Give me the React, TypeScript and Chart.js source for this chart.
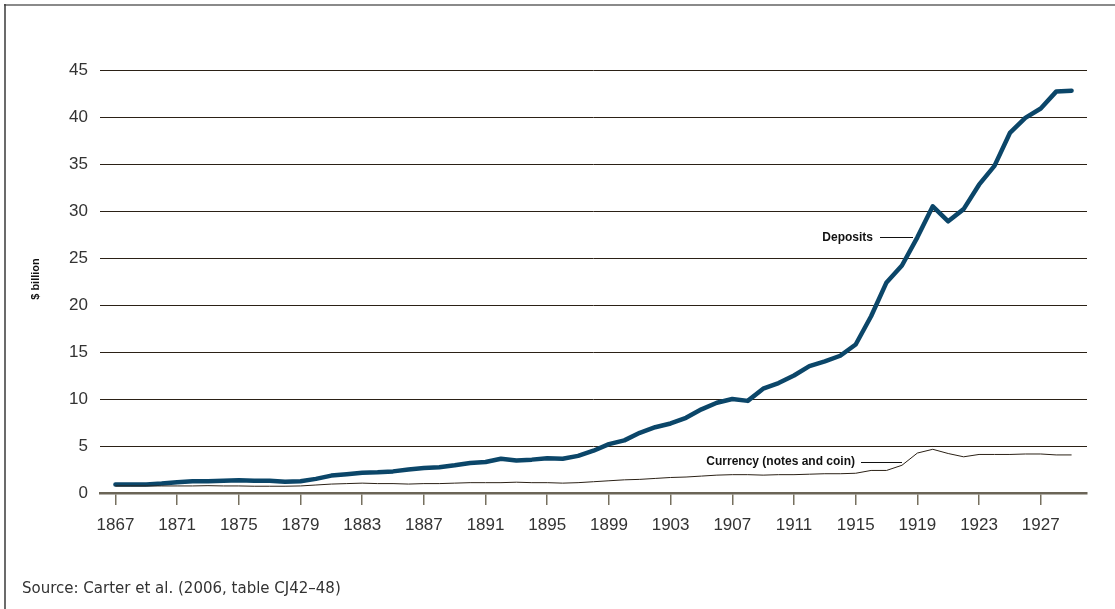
import React, { useEffect, useRef } from "react";
import { Chart, registerables } from "chart.js";

Chart.register(...registerables);

const years: number[] = [];
for (let y = 1867; y <= 1929; y++) years.push(y);

const deposits: number[] = [
  0.9, 0.9, 0.9, 1.0, 1.15, 1.25, 1.25, 1.3, 1.35, 1.3, 1.3, 1.2, 1.25,
  1.5, 1.85, 2.0, 2.15, 2.2, 2.3, 2.5, 2.65, 2.75, 2.95,
  3.2, 3.3, 3.65, 3.45, 3.55, 3.7, 3.65, 3.95, 4.5, 5.2,
  5.6, 6.4, 7.0, 7.4, 8.0, 8.9, 9.6, 10.0, 9.8, 11.1,
  11.7, 12.5, 13.5, 14.0, 14.6, 15.8, 18.8, 22.4, 24.2, 27.2,
  30.5, 28.9, 30.2, 32.8, 34.8, 38.3, 39.9, 40.9, 42.7, 42.8,
];

const currency: number[] = [
  0.75, 0.75, 0.75, 0.75, 0.75, 0.75, 0.78, 0.75, 0.75, 0.72, 0.72, 0.72, 0.75,
  0.85, 0.95, 1.0, 1.05, 1.0, 1.0, 0.95, 1.0, 1.0, 1.05,
  1.1, 1.1, 1.1, 1.15, 1.1, 1.1, 1.05, 1.1, 1.2, 1.3,
  1.4, 1.45, 1.55, 1.65, 1.7, 1.8, 1.9, 1.95, 1.95, 1.9,
  1.95, 1.95, 2.0, 2.05, 2.05, 2.1, 2.4, 2.4, 2.95, 4.25,
  4.65, 4.2, 3.85, 4.1, 4.1, 4.1, 4.15, 4.15, 4.05, 4.05,
];

const xTickYears: number[] = [1867, 1871, 1875, 1879, 1883, 1887, 1891, 1895, 1899, 1903, 1907, 1911, 1915, 1919, 1923, 1927];
const yTicks: number[] = [0, 5, 10, 15, 20, 25, 30, 35, 40, 45];

const seriesLabels = ["Deposits", "Currency (notes and coin)"];
const yAxisTitle = "$ billion";
const sourceText = "Source: Carter et al. (2006, table CJ42\u201348)";

const FONT = "'Liberation Sans', Arial, Helvetica, sans-serif";
const SRC_FONT = "'DejaVu Sans', Verdana, sans-serif";

const decorPlugin = {
  id: "decor",
  afterDraw(chart: any) {
    const ctx = chart.ctx as CanvasRenderingContext2D;
    const ys = chart.scales.y;
    ctx.save();
    // frame
    ctx.strokeStyle = "#8a8a8a";
    ctx.lineWidth = 2;
    ctx.beginPath();
    ctx.moveTo(4, 5);
    ctx.lineTo(1115, 5);
    ctx.stroke();
    ctx.strokeStyle = "#3a3a3a";
    ctx.lineWidth = 1.5;
    ctx.beginPath();
    ctx.moveTo(5, 4);
    ctx.lineTo(5, 609);
    ctx.stroke();

    // y title
    ctx.fillStyle = "#111";
    ctx.font = `bold 11px ${FONT}`;
    ctx.textAlign = "center";
    ctx.textBaseline = "middle";
    ctx.save();
    ctx.translate(35.5, 279);
    ctx.rotate(-Math.PI / 2);
    ctx.fillText(yAxisTitle, 0, 0);
    ctx.restore();

    // annotations
    ctx.font = `bold 12px ${FONT}`;
    ctx.textAlign = "right";
    const dy = ys.getPixelForValue(27.2);
    ctx.fillText(seriesLabels[0], 873, dy);
    ctx.strokeStyle = "#111";
    ctx.lineWidth = 1;
    ctx.beginPath();
    ctx.moveTo(880, Math.round(dy) + 0.5);
    ctx.lineTo(913, Math.round(dy) + 0.5);
    ctx.stroke();

    const cy = ys.getPixelForValue(3.35);
    ctx.fillText(seriesLabels[1], 855, cy);
    ctx.beginPath();
    ctx.moveTo(861, Math.round(cy) + 0.5);
    ctx.lineTo(902, Math.round(cy) + 0.5);
    ctx.stroke();

    // source
    ctx.fillStyle = "#333";
    ctx.font = `15px ${SRC_FONT}`;
    ctx.textAlign = "left";
    ctx.fillText(sourceText, 22, 589);
    ctx.restore();
  },
};

export default function App() {
  const ref = useRef<HTMLCanvasElement | null>(null);

  useEffect(() => {
    if (!ref.current) return;
    const chart = new Chart(ref.current, {
      type: "line",
      data: {
        datasets: [
          {
            label: seriesLabels[1],
            data: years.map((y, i) => ({ x: y, y: currency[i] })),
            borderColor: "#2b2116",
            borderWidth: 1,
            pointRadius: 0,
            tension: 0,
          },
          {
            label: seriesLabels[0],
            data: years.map((y, i) => ({ x: y, y: deposits[i] })),
            borderColor: "#0b4669",
            borderWidth: 4.5,
            pointRadius: 0,
            tension: 0,
            borderCapStyle: "round",
            borderJoinStyle: "round",
          },
        ],
      },
      options: {
        animation: false,
        responsive: false,
        maintainAspectRatio: false,
        devicePixelRatio: 1,
        layout: { padding: { top: 70, right: 28, left: 0, bottom: 0 } },
        plugins: { legend: { display: false }, tooltip: { enabled: false }, title: { display: false } },
        scales: {
          x: {
            type: "linear",
            min: 1866,
            max: 1930,
            afterBuildTicks: (scale: any) => {
              scale.ticks = xTickYears.map((v) => ({ value: v }));
            },
            afterFit: (scale: any) => {
              scale.height = 609 - 493;
            },
            ticks: {
              callback: (v: any) => String(v),
              color: "#333",
              font: { family: FONT, size: 17 },
              padding: 10,
              maxRotation: 0,
              autoSkip: false,
            },
            grid: {
              drawOnChartArea: false,
              drawTicks: true,
              tickLength: 12,
              color: "#77705f",
              lineWidth: 1.5,
            },
            border: { display: true, color: "#6b6557", width: 2.5 },
          },
          y: {
            min: 0,
            max: 45,
            afterBuildTicks: (scale: any) => {
              scale.ticks = yTicks.map((v) => ({ value: v }));
            },
            afterFit: (scale: any) => {
              scale.width = 100;
            },
            ticks: {
              color: "#333",
              font: { family: FONT, size: 17 },
              padding: 12,
            },
            grid: {
              drawTicks: false,
              color: (c: any) => (c.tick && c.tick.value === 0 ? "rgba(0,0,0,0)" : "#2b2116"),
              lineWidth: 1,
            },
            border: { display: false },
          },
        },
      },
      plugins: [decorPlugin],
    });
    return () => chart.destroy();
  }, []);

  return (
    <div style={{ position: "absolute", left: 0, top: 0, width: 1115, height: 609, background: "#fff" }}>
      <canvas ref={ref} width={1115} height={609} style={{ width: 1115, height: 609, display: "block" }} />
    </div>
  );
}
